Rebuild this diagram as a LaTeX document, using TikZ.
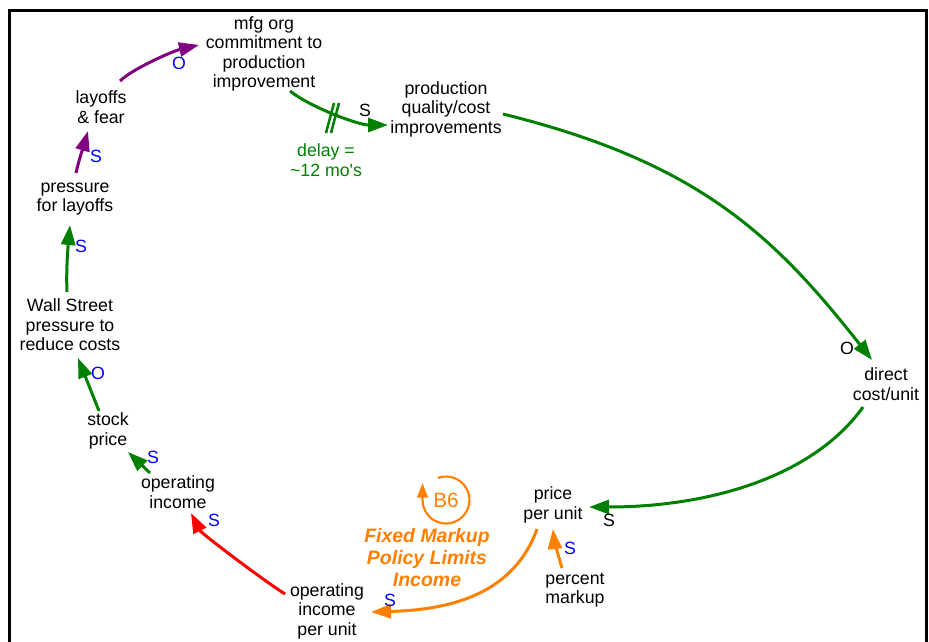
\documentclass[tikz,border=0pt]{standalone}
\usepackage{fontspec}
\setmainfont{Liberation Sans}
\usetikzlibrary{arrows.meta,calc}

\definecolor{lgreen}{RGB}{0,128,0}
\definecolor{lpurple}{RGB}{128,0,128}
\definecolor{lred}{RGB}{255,0,0}
\definecolor{lorange}{RGB}{255,128,0}
\definecolor{lblue}{RGB}{0,0,255}

\begin{document}
\begin{tikzpicture}[x=0.75pt,y=0.75pt,
  var/.style={align=center, inner sep=0pt, font=\fontsize{13.3}{14.6}\selectfont},
  pol/.style={inner sep=0pt, font=\fontsize{13.3}{14.6}\selectfont},
  link/.style={line width=2.25pt, -{Triangle[length=15pt,width=10.5pt]}},
  loopname/.style={align=center, inner sep=0pt, text=lorange,
    font=\bfseries\itshape\fontsize{14.6}{16.5}\selectfont}]

\useasboundingbox (0,0) rectangle (929,-642);
\fill[white] (0,0) rectangle (929,-642);
% frame (its lower edge lies below the page)
\draw[line width=2.25pt] (9.5,-660) -- (9.5,-10.5) -- (926.5,-10.5) -- (926.5,-660);

% variables
\node[var] (mfg) at (264,-54) {mfg org\\commitment to\\production\\improvement};
\node[var] (pqc) at (446,-109) {production\\quality/cost\\improvements};
\node[var] (lay) at (101,-107) {layoffs\\\& fear};
\node[var] (pfl) at (75,-199) {pressure\\for layoffs};
\node[var] (wsp) at (70,-325) {Wall Street\\pressure to\\reduce costs};
\node[var] (stk) at (108,-431) {stock\\price};
\node[var] (opi) at (178,-492) {operating\\income};
\node[var] (opu) at (327,-611) {operating\\income\\per unit};
\node[var] (ppu) at (553,-505) {price\\per unit};
\node[var] (pmk) at (575,-590) {percent\\markup};
\node[var] (dcu) at (886,-384) {direct\\cost/unit};
\node[var, text=lgreen] (dly) at (326,-160) {delay =\\\textasciitilde12 mo\textquotesingle s};

% loop marker
\node[inner sep=0pt, text=lorange, font=\fontsize{15.5}{18}\selectfont] (b6) at (446,-500) {B6};
\draw[lorange, line width=1.6pt, -{Triangle[length=11pt,width=8pt]}]
  ($(b6)+(110:23.5)$) arc[start angle=110, end angle=-180, radius=23.5] -- ++(0,17);
\node[loopname] (fix) at (427,-558) {Fixed Markup\\Policy Limits\\Income};

% links
\draw[link, lpurple] ($(lay)+(19,26)$) .. controls +(12,12) and +(-26,-6) .. ($(mfg)+(-65,9)$);
\draw[link, lpurple] ($(pfl)+(1,26)$) .. controls +(3,14) and +(-4,-14) .. ($(lay)+(-13,-24)$);
\draw[link, lgreen] ($(wsp)+(-3,33)$) .. controls +(-1,22) and +(-2,-22) .. ($(pfl)+(-5,-26)$);
\draw[link, lgreen] ($(stk)+(-9,20)$) -- ($(wsp)+(8,-33)$);
\draw[link, lgreen] ($(opi)+(-28,19)$) -- ($(stk)+(20,-21)$);
\draw[link, lred] ($(opu)+(-42,17)$) .. controls +(-25,16) and +(10,-20) .. ($(opi)+(13,-21)$);
\draw[link, lorange] ($(ppu)+(-16,-24)$) .. controls +(-25,-70) and +(70,2) .. ($(opu)+(44,-1)$);
\draw[link, lorange] ($(pmk)+(-13,22)$) .. controls +(-3,10) and +(1,-10) .. ($(ppu)+(0,-24)$);
\draw[link, lgreen] ($(dcu)+(-23,-23)$) .. controls +(-50,-70) and +(120,0) .. ($(ppu)+(36,-2)$);
\draw[link, lgreen] ($(pqc)+(57,-5)$) .. controls +(194,-48) and +(-99,126) .. ($(dcu)+(-14,24)$);
\draw[link, lgreen] ($(mfg)+(26,-37)$) .. controls +(20,-16) and +(-30,0) .. ($(pqc)+(-58,-16)$);

% delay mark
\draw[lgreen, line width=1.9pt] ($(dly)+(0,27)$) -- ($(dly)+(8,57)$);
\draw[lgreen, line width=1.9pt] ($(dly)+(5,27)$) -- ($(dly)+(13,57)$);

% polarities
\node[pol, text=lblue] (s1) at (179,-63) {O};
\node[pol, text=lblue] (s2) at (96,-156) {S};
\node[pol, text=lblue] (s3) at (81,-246) {S};
\node[pol, text=lblue] (s4) at (98,-373) {O};
\node[pol, text=lblue] (s5) at (153,-457) {S};
\node[pol, text=lblue] (s6) at (214,-520) {S};
\node[pol, text=lblue] (s7) at (390,-600) {S};
\node[pol, text=lblue] (s8) at (570,-548) {S};
\node[pol] (s9) at (609,-520) {S};
\node[pol] (s10) at (847,-348) {O};
\node[pol] (s11) at (365,-110) {S};
\end{tikzpicture}
\end{document}
